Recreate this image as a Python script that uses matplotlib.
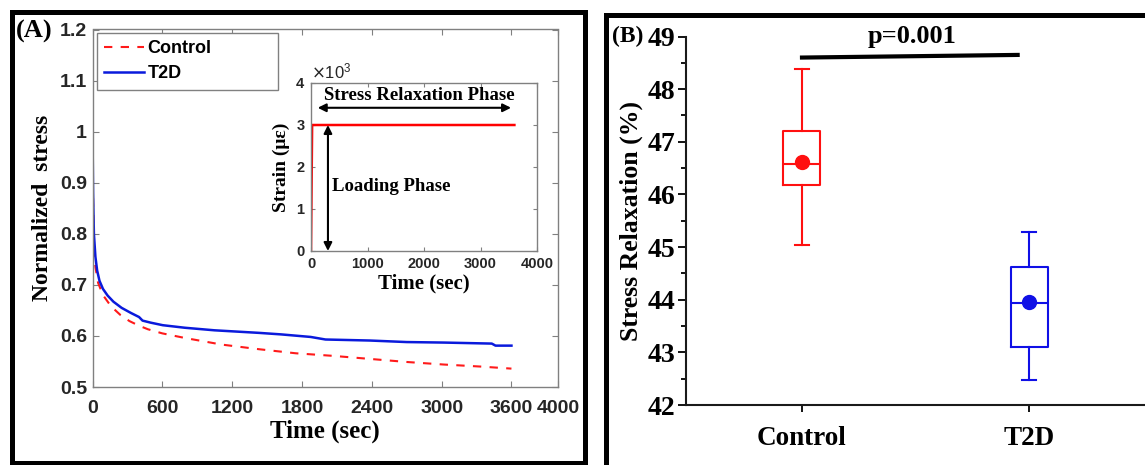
import matplotlib
matplotlib.use('Agg')
import matplotlib.pyplot as plt
from matplotlib.lines import Line2D
from matplotlib.ticker import ScalarFormatter

# ---- data ----
time_t2d = [0, 5, 12, 25, 40, 60, 90, 130, 180, 250, 330, 400, 430, 500, 604, 794,
            1049, 1430, 1621, 1875, 2002, 2383, 2700, 3018, 3431, 3463, 3600]
stress_t2d = [1.0, 0.88, 0.80, 0.755, 0.728, 0.708, 0.692, 0.679, 0.667, 0.655,
              0.645, 0.637, 0.630, 0.626, 0.621, 0.616, 0.611, 0.606, 0.603, 0.598,
              0.593, 0.591, 0.588, 0.587, 0.585, 0.581, 0.581]
time_ctrl = [0, 5, 12, 25, 48, 90, 159, 240, 318, 400, 477, 600, 794, 1112, 1430,
             1748, 2065, 2383, 2700, 3018, 3336, 3600]
stress_ctrl = [1.0, 0.86, 0.78, 0.735, 0.704, 0.680, 0.658, 0.641, 0.629, 0.620,
               0.613, 0.605, 0.596, 0.583, 0.574, 0.566, 0.561, 0.555, 0.549, 0.544,
               0.540, 0.536]

inset_time = [0, 20, 3600]
inset_strain = [0, 3000, 3000]

groups = ['Control', 'T2D']
whisker_low = [45.04, 42.48]
box_low = [46.17, 43.11]
medians = [46.57, 43.94]
means = [46.62, 43.96]
box_high = [47.21, 44.63]
whisker_high = [48.39, 45.29]
p_text = 'p=0.001'

W, H = 1145, 465
SERIF = 'Liberation Serif'
SANS = 'Liberation Sans'
GRAY = '#808080'


def rect(left, top, right, bottom):
    return [left / W, 1 - bottom / H, (right - left) / W, (bottom - top) / H]


fig = plt.figure(figsize=(W / 100, H / 100), dpi=100)

# panel frames
frame_kw = dict(color='black', lw=3.6, transform=fig.transFigure, solid_capstyle='projecting')
fig.add_artist(Line2D([12 / W, 12 / W], [0, 1 - 12.5 / H], **frame_kw))
fig.add_artist(Line2D([12 / W, 585 / W], [1 - 12.5 / H, 1 - 12.5 / H], **frame_kw))
fig.add_artist(Line2D([585 / W, 585 / W], [1 - 12.5 / H, 1 - 463 / H], **frame_kw))
fig.add_artist(Line2D([12 / W, 585 / W], [1 - 463 / H, 1 - 463 / H], **frame_kw))
fig.add_artist(Line2D([606 / W, 606 / W], [0, 1 - 15.5 / H], **frame_kw))
fig.add_artist(Line2D([606 / W, 1.0], [1 - 15.5 / H, 1 - 15.5 / H], **frame_kw))

# ---- panel A ----
ax = fig.add_axes(rect(92.5, 29.5, 558, 387))
ax.plot(time_ctrl, stress_ctrl, color='#ff1a1a', lw=1.5, dashes=(4, 4), label='Control')
ax.plot(time_t2d, stress_t2d, color='#0a1adc', lw=1.8, label='T2D')
ax.set_xlim(0, 4000)
ax.set_ylim(0.5, 1.2)
ax.set_xticks([0, 600, 1200, 1800, 2400, 3000, 3600, 4000])
ax.set_yticks([0.5, 0.6, 0.7, 0.8, 0.9, 1.0, 1.1, 1.2])
ax.set_yticklabels(['0.5', '0.6', '0.7', '0.8', '0.9', '1', '1.1', '1.2'])
ax.tick_params(direction='in', top=True, right=True, length=4, color=GRAY,
               labelsize=14, labelcolor='#262626', pad=4)
ax.tick_params(axis='x', pad=9)
for lab in ax.get_xticklabels() + ax.get_yticklabels():
    lab.set_fontfamily(SANS)
    lab.set_fontweight('bold')
for s in ax.spines.values():
    s.set_color(GRAY)
    s.set_linewidth(1)
ax.set_xlabel('Time (sec)', fontfamily=SERIF, fontweight='bold', fontsize=18, labelpad=2)
ax.set_ylabel('Normalized  stress', fontfamily=SERIF, fontweight='bold', fontsize=17, labelpad=5)
leg = ax.legend(loc='upper left', bbox_to_anchor=(0.0097, 0.834, 0.389, 0.156), mode='expand',
                borderaxespad=0, fancybox=False, edgecolor=GRAY, framealpha=1,
                handlelength=2.2, handletextpad=0.2, labelspacing=0.45,
                prop={'family': SANS, 'weight': 'bold', 'size': 13})
leg.get_frame().set_linewidth(1)

fig.text(16 / W, 1 - 31 / H, '(A)', fontfamily=SERIF, fontweight='bold', fontsize=19,
         ha='left', va='center')

# inset
ins = fig.add_axes(rect(311, 83, 537, 251))
ins.plot(inset_time, inset_strain, color='#ff0000', lw=1.8)
ins.set_xlim(0, 4000)
ins.set_ylim(0, 4000)
ins.set_xticks([0, 1000, 2000, 3000, 4000])
ins.set_yticks([0, 1000, 2000, 3000, 4000])
fmt = ScalarFormatter(useMathText=True)
fmt.set_powerlimits((3, 3))
ins.yaxis.set_major_formatter(fmt)
ins.yaxis.get_offset_text().set_fontsize(12)
ins.yaxis.get_offset_text().set_fontfamily(SANS)
ins.tick_params(direction='in', top=True, right=True, length=3, color=GRAY,
                labelsize=10.5, labelcolor='#262626', pad=4)
for lab in ins.get_xticklabels() + ins.get_yticklabels():
    lab.set_fontfamily(SANS)
    lab.set_fontweight('bold')
for s in ins.spines.values():
    s.set_color(GRAY)
    s.set_linewidth(1)
ins.set_xlabel('Time (sec)', fontfamily=SERIF, fontweight='bold', fontsize=15, labelpad=2)
ins.set_ylabel('Strain (\u03bc\u03b5)', fontfamily=SERIF, fontweight='bold', fontsize=14, labelpad=4)
ins.annotate('', xy=(70, 3410), xytext=(3590, 3410),
             arrowprops=dict(arrowstyle='<|-|>', color='black', lw=1.5, mutation_scale=12))
ins.annotate('', xy=(300, 3000), xytext=(300, 0),
             arrowprops=dict(arrowstyle='<|-|>', color='black', lw=1.5, mutation_scale=12,
                             shrinkA=0, shrinkB=0))
ins.text(1924, 3714, 'Stress Relaxation Phase', fontfamily=SERIF, fontweight='bold',
         fontsize=13.5, ha='center', va='center')
ins.text(366, 1531, 'Loading Phase', fontfamily=SERIF, fontweight='bold',
         fontsize=13.5, ha='left', va='center')

# ---- panel B ----
bx = fig.add_axes(rect(686, 36.5, 1145, 405))
colors = ['#ff1010', '#1010e6']
for i, g in enumerate(groups):
    stats = [dict(label=g, whislo=whisker_low[i], q1=box_low[i], med=medians[i],
                  q3=box_high[i], whishi=whisker_high[i], mean=means[i], fliers=[])]
    c = colors[i]
    bx.bxp(stats, positions=[i + 1], widths=0.163, capwidths=0.066, showmeans=True,
           showfliers=False, patch_artist=False,
           boxprops=dict(color=c, lw=1.5), whiskerprops=dict(color=c, lw=1.5),
           capprops=dict(color=c, lw=1.5), medianprops=dict(color=c, lw=1.5),
           meanprops=dict(marker='o', markerfacecolor=c, markeredgecolor=c, markersize=10))
bx.set_xlim(0.489, 2.511)
bx.set_ylim(42, 49)
bx.set_xticks([1, 2])
bx.set_xticklabels(groups)
bx.set_yticks(range(42, 50))
bx.set_yticks([42.5 + k for k in range(7)], minor=True)
bx.spines['top'].set_visible(False)
bx.spines['right'].set_visible(False)
for s in ('left', 'bottom'):
    bx.spines[s].set_linewidth(1.5)
    bx.spines[s].set_color('#1a1a1a')
bx.tick_params(axis='y', which='major', direction='out', length=6, width=1.3, labelsize=20, pad=2)
bx.tick_params(axis='y', which='minor', direction='out', length=3.5, width=1.3)
bx.tick_params(axis='x', direction='out', length=5, width=1.3, labelsize=19.5, pad=10)
for lab in bx.get_xticklabels() + bx.get_yticklabels():
    lab.set_fontfamily(SERIF)
    lab.set_fontweight('bold')
bx.set_ylabel('Stress Relaxation (%)', fontfamily=SERIF, fontweight='bold', fontsize=18.5, labelpad=3)
bx.plot([1.0, 1.95], [48.60, 48.65], color='black', lw=3, clip_on=False)
bx.text(1.485, 48.87, p_text, fontfamily=SERIF, fontweight='bold', fontsize=19,
        ha='center', va='baseline', clip_on=False)

fig.text(612 / W, 1 - 36 / H, '(B)', fontfamily=SERIF, fontweight='bold', fontsize=17,
         ha='left', va='center')

fig.savefig('out.png', dpi=100, facecolor='white')
